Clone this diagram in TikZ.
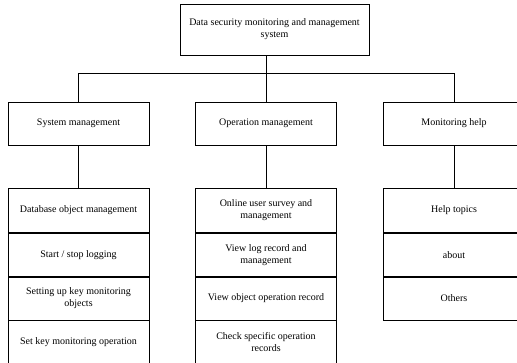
\documentclass[tikz,border=0pt]{standalone}
\usepackage{fontspec}
\setmainfont{Liberation Serif}
\begin{document}
\begin{tikzpicture}[x=1pt,y=-1pt,
  box/.style={draw, line width=0.8pt, minimum width=141pt, minimum height=43pt,
    align=center, inner sep=0pt, font=\fontsize{10}{12}\selectfont},
  cell/.style={box, anchor=north},
  link/.style={draw, line width=0.8pt}]
\useasboundingbox (0,0) rectangle (517,362);
\node[box, minimum width=189pt, minimum height=51pt] (root) at (274.5,29.5) {Data security monitoring and management\\system};
\node[box] (sys) at (78.5,123.5) {System management};
\node[box] (op) at (266,123.5) {Operation management};
\node[box] (help) at (454,123.5) {Monitoring help};
\coordinate (bar) at (266,73);
% left stack
\node[cell, minimum height=44pt] (s1) at (78.5,188) {Database object management};
\node[cell] (s2) at (s1.south) {Start / stop logging};
\node[cell] (s3) at (s2.south) {Setting up key monitoring\\objects};
\node[cell] (s4) at (s3.south) {Set key monitoring operation};
% middle stack
\node[cell, minimum height=44pt] (o1) at (266,188) {Online user survey and\\management};
\node[cell] (o2) at (o1.south) {View log record and\\management};
\node[cell] (o3) at (o2.south) {View object operation record};
\node[cell] (o4) at (o3.south) {Check specific operation\\records};
% right stack
\node[cell, minimum height=44pt] (h1) at (454,188) {Help topics};
\node[cell] (h2) at (h1.south) {about};
\node[cell] (h3) at (h2.south) {Others};
% connectors
\path[link] (op.north |- root.south) -- (op.north);
\path[link] (sys.north) -- (sys.north |- bar) -- (help.north |- bar) -- (help.north);
\path[link] (sys.south) -- (s1.north);
\path[link] (op.south) -- (o1.north);
\path[link] (help.south) -- (h1.north);
\end{tikzpicture}
\end{document}
